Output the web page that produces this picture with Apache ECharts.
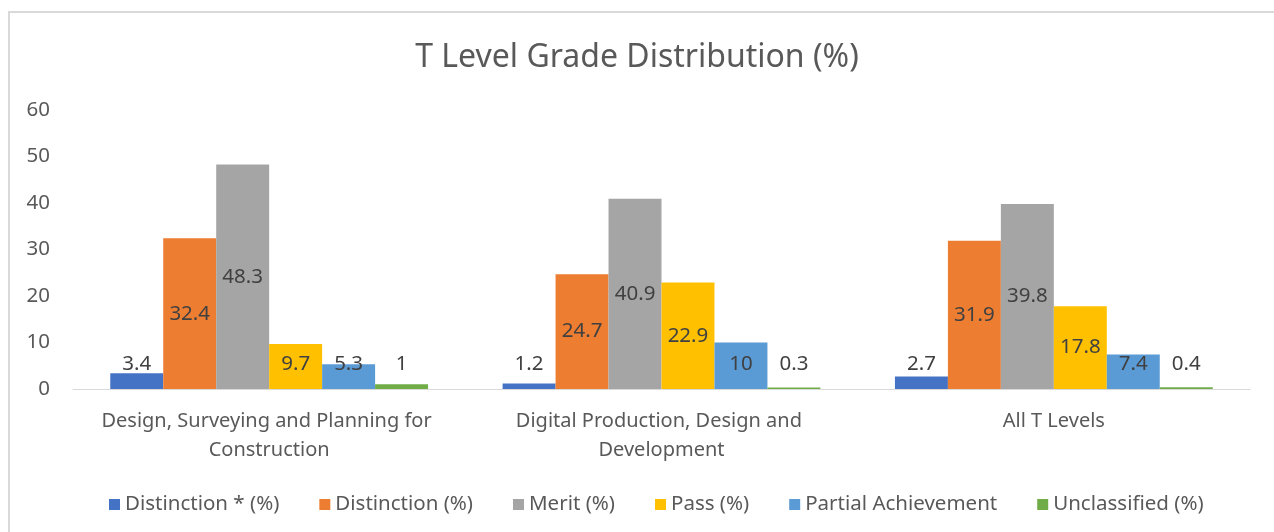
<!DOCTYPE html>
<html><head><meta charset="utf-8">
<script src="https://cdn.jsdelivr.net/npm/echarts@6/dist/echarts.min.js"></script>
<style>html,body{margin:0;padding:0;background:#fff}#c{width:1274px;height:532px}</style>
</head><body><div id="c"></div>
<script>
const categories = ["Design, Surveying and Planning for Construction", "Digital Production, Design and Development", "All T Levels"];
const seriesNames = ["Distinction * (%)", "Distinction (%)", "Merit (%)", "Pass (%)", "Partial Achievement", "Unclassified (%)"];
const distinctionStar = [3.4, 1.2, 2.7];
const distinction = [32.4, 24.7, 31.9];
const merit = [48.3, 40.9, 39.8];
const pass = [9.7, 22.9, 17.8];
const partial = [5.3, 10, 7.4];
const unclassified = [1, 0.3, 0.4];
const yTicks = [0, 10, 20, 30, 40, 50, 60];

const values = [distinctionStar, distinction, merit, pass, partial, unclassified];
const colors = ['#4472C4', '#ED7D31', '#A5A5A5', '#FFC000', '#5B9BD5', '#70AD47'];
const font = 'Noto Sans';

const chart = echarts.init(document.getElementById('c'), null, {renderer: 'canvas'});
chart.setOption({
  animation: false,
  textStyle: {fontFamily: font},
  graphic: [{type: 'rect', shape: {x: 9, y: 12, width: 1300, height: 560}, style: {fill: 'none', stroke: '#D9D9D9', lineWidth: 2}, silent: true}],
  title: {text: 'T Level Grade Distribution (%)', left: 'center', top: 37,
    textStyle: {fontFamily: font, fontSize: 32, fontWeight: 'normal', color: '#595959'}},
  legend: {bottom: 12, left: 104, itemWidth: 11, itemHeight: 11, itemGap: 40, icon: 'rect',
    textStyle: {fontFamily: font, fontSize: 20.5, color: '#595959'}, data: seriesNames},
  grid: {left: 73, right: 24, top: 110, bottom: 143, containLabel: false},
  xAxis: {type: 'category', data: categories,
    axisLine: {lineStyle: {color: '#D9D9D9', width: 1}}, axisTick: {show: false},
    axisLabel: {interval: 0, fontFamily: font, fontSize: 20, color: '#595959', margin: 18, width: 350, overflow: 'break', lineHeight: 29}},
  yAxis: {type: 'value', min: yTicks[0], max: yTicks[yTicks.length - 1], interval: 10,
    splitLine: {show: false}, axisLine: {show: false}, axisTick: {show: false},
    axisLabel: {fontFamily: font, fontSize: 20.5, color: '#595959', margin: 23}},
  series: seriesNames.map((n, i) => ({
    name: n, type: 'bar', barGap: '0%', barCategoryGap: '19%',
    itemStyle: {color: colors[i]},
    data: values[i].map(v => ({value: v, label: {position: v > 11 ? 'inside' : 'insideBottom', distance: v > 11 ? 5 : 14}})),
    label: {show: true, fontFamily: font, fontSize: 20.5, color: '#404040'}
  }))
});
</script></body></html>
